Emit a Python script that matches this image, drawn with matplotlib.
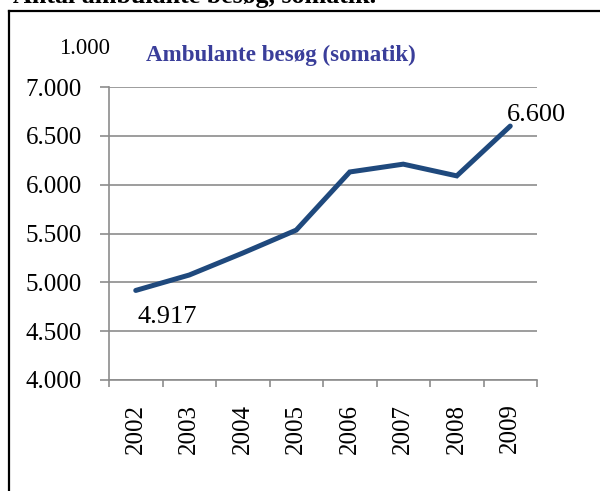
import matplotlib
matplotlib.use("Agg")
import matplotlib.pyplot as plt
from matplotlib.lines import Line2D

years = ["2002", "2003", "2004", "2005", "2006", "2007", "2008", "2009"]
visits = [4917, 5075, 5300, 5535, 6130, 6210, 6090, 6600]
y_ticks = [4000, 4500, 5000, 5500, 6000, 6500, 7000]
y_tick_labels = ["4.000", "4.500", "5.000", "5.500", "6.000", "6.500", "7.000"]
first_label = "4.917"
last_label = "6.600"
unit_label = "1.000"
chart_title = "Ambulante besøg (somatik)"
page_title = "Antal ambulante besøg, somatik."

W, H = 600, 491
fig = plt.figure(figsize=(6, 4.91), dpi=100)
plt.rcParams['font.family'] = ['Liberation Serif', 'DejaVu Serif']

def fx(px):
    return px / W

def fy(py):
    return 1 - py / H

# frame
fig.add_artist(Line2D([fx(9), fx(9)], [fy(11), fy(495)], color='black', lw=1.6,
                      transform=fig.transFigure))
fig.add_artist(Line2D([fx(9), fx(605)], [fy(11), fy(11)], color='black', lw=1.6,
                      transform=fig.transFigure))

# cut-off page title
fig.text(fx(13), fy(3), page_title, fontsize=18.7, fontweight='bold',
         ha='left', va='baseline', color='black')

left, right, top, bottom = 109, 537, 87, 380
ax = fig.add_axes([fx(left), fy(bottom), fx(right - left), (bottom - top) / H])

x = list(range(len(years)))
ax.plot(x, visits, color='#1F497D', lw=3.6, solid_capstyle='round', solid_joinstyle='miter', zorder=3)

ax.set_xlim(-0.5, len(years) - 0.5)
ax.set_ylim(4000, 7000)
ax.set_yticks(y_ticks)
ax.set_yticklabels(y_tick_labels, fontsize=18)
ax.yaxis.grid(True, color='#8c8c8c', lw=1.2)
ax.set_axisbelow(True)

ax.set_xticks(x)
ax.set_xticklabels(years, rotation=90, fontsize=18)
ax.set_xticks([i - 0.5 for i in range(len(years) + 1)], minor=True)
ax.tick_params(axis='x', which='major', length=0, pad=17)
ax.tick_params(axis='x', which='minor', length=5, color='#8c8c8c', width=1.2)
ax.tick_params(axis='y', length=6.5, color='#8c8c8c', width=1.2, pad=13)

for s in ['top', 'right']:
    ax.spines[s].set_visible(False)
for s in ['left', 'bottom']:
    ax.spines[s].set_color('#8c8c8c')
    ax.spines[s].set_linewidth(1.2)

ax.annotate(first_label, (x[0], visits[0]), xytext=(1.5, -19), textcoords='offset points',
            fontsize=19, ha='left', va='center')
ax.annotate(last_label, (x[-1], visits[-1]), xytext=(-2.5, 8), textcoords='offset points',
            fontsize=19, ha='left', va='center')

fig.text(fx(85), fy(48), unit_label, fontsize=16.3, ha='center', va='center')
fig.text(fx(281), fy(55), chart_title, fontsize=16.6, fontweight='bold',
         ha='center', va='center', color='#3A3E9A')

fig.savefig("out.png", dpi=100)
